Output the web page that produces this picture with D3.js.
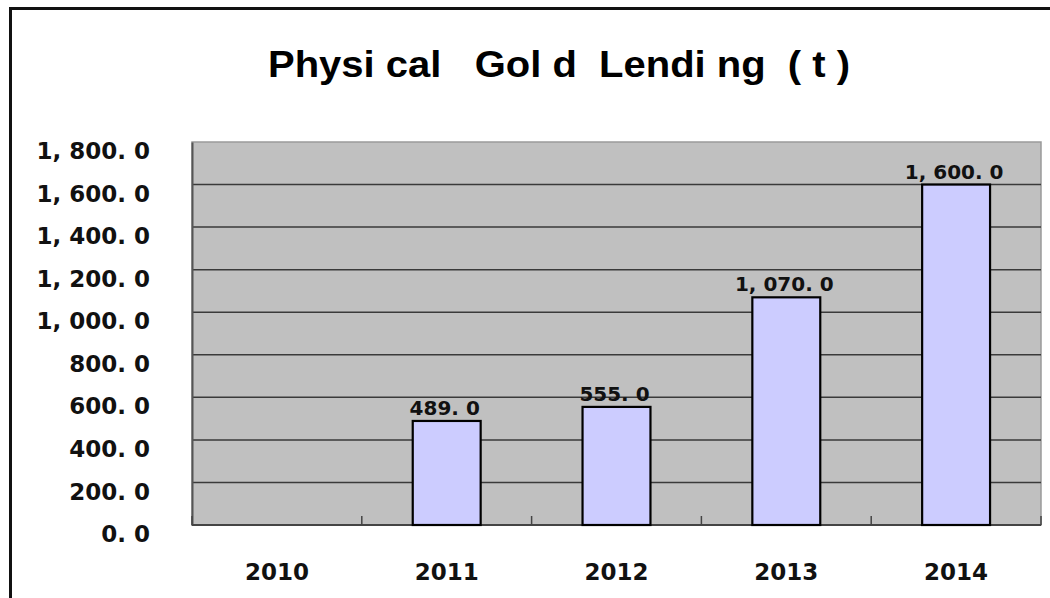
<!DOCTYPE html>
<html>
<head>
<meta charset="utf-8">
<script src="https://cdn.jsdelivr.net/npm/d3@7"></script>
<style>
  html, body { margin: 0; padding: 0; background: #fff; }
  svg { display: block; }
</style>
</head>
<body>
<svg id="chart" width="1050" height="598"></svg>
<script>
const categories = ["2010", "2011", "2012", "2013", "2014"];
const values = [null, 489.0, 555.0, 1070.0, 1600.0];
const yTicks = [0, 200, 400, 600, 800, 1000, 1200, 1400, 1600, 1800];
const titleText = "Physi cal   Gol d  Lendi ng  ( t )";

// Excel-style labels: "1, 800. 0"
const fmtNum = v => d3.format(",.1f")(v).replace(/,/g, ", ").replace(/\./g, ". ");

const svg = d3.select("#chart");
const plot = { left: 192, right: 1041, top: 142, bottom: 525 };

// outer frame (extends past right/bottom edges)
svg.append("rect")
  .attr("x", 10.5).attr("y", 8.5)
  .attr("width", 1100).attr("height", 700)
  .attr("fill", "none").attr("stroke", "#111").attr("stroke-width", 3);

// title
svg.append("text")
  .attr("x", 268).attr("y", 77)
  .attr("textLength", 582).attr("lengthAdjust", "spacingAndGlyphs")
  .style("white-space", "pre")
  .attr("font-family", "Liberation Sans, Arial, sans-serif")
  .attr("font-weight", "bold").attr("font-size", 37)
  .attr("fill", "#000")
  .text(titleText);

const x = d3.scaleBand()
  .domain(categories)
  .range([plot.left, plot.right])
  .paddingInner(0.6).paddingOuter(0.3);

const y = d3.scaleLinear()
  .domain([0, 1800])
  .range([plot.bottom, plot.top]);

// plot area background
svg.append("rect")
  .attr("x", plot.left).attr("y", plot.top)
  .attr("width", plot.right - plot.left).attr("height", plot.bottom - plot.top)
  .attr("fill", "#C0C0C0")
  .attr("stroke", "#9a9a9a").attr("stroke-width", 1.5);

// gridlines
svg.append("g").selectAll("line")
  .data(yTicks.filter(t => t > 0 && t < 1800))
  .join("line")
  .attr("x1", plot.left).attr("x2", plot.right)
  .attr("y1", d => y(d)).attr("y2", d => y(d))
  .attr("stroke", "#3a3a3a").attr("stroke-width", 1.5);

// y axis (line + labels)
const yAxis = d3.axisLeft(y).tickValues(yTicks).tickFormat(fmtNum).tickSize(0).tickPadding(42);
const gy = svg.append("g").attr("transform", `translate(${plot.left},0)`).call(yAxis);
gy.select(".domain").attr("stroke", "#555").attr("stroke-width", 2);
gy.selectAll("text")
  .attr("font-family", "DejaVu Sans, sans-serif")
  .attr("font-weight", "bold").attr("font-size", 23)
  .attr("fill", "#111")
  .attr("dy", "0.72em")
  .attr("transform", "translate(0,0)");

// x axis baseline with inner ticks at band boundaries
const step = x.step();
const boundaries = categories.map((c, i) => x(c) - x.paddingOuter() * step + 0).map((v, i) => plot.left + i * step);
boundaries.push(plot.right);
const gx = svg.append("g");
gx.append("line")
  .attr("x1", plot.left).attr("x2", plot.right)
  .attr("y1", plot.bottom).attr("y2", plot.bottom)
  .attr("stroke", "#444").attr("stroke-width", 2);
gx.selectAll("line.tick")
  .data(boundaries)
  .join("line").attr("class", "tick")
  .attr("x1", d => d).attr("x2", d => d)
  .attr("y1", plot.bottom).attr("y2", plot.bottom - 9)
  .attr("stroke", "#444").attr("stroke-width", 1.5);

const xAxis = d3.axisBottom(x).tickSize(0).tickPadding(0);
const gxa = svg.append("g").attr("transform", `translate(0,${plot.bottom})`).call(xAxis);
gxa.select(".domain").remove();
gxa.selectAll("text")
  .attr("font-family", "DejaVu Sans, sans-serif")
  .attr("font-weight", "bold").attr("font-size", 23)
  .attr("fill", "#111")
  .attr("dy", 0).attr("y", 55);

// bars
const data = categories.map((c, i) => ({ c, v: values[i] })).filter(d => d.v != null);
svg.append("g").selectAll("rect")
  .data(data)
  .join("rect")
  .attr("x", d => x(d.c)).attr("width", x.bandwidth())
  .attr("y", d => y(d.v)).attr("height", d => y(0) - y(d.v))
  .attr("fill", "#CCCCFF").attr("stroke", "#000").attr("stroke-width", 2.2);

// value labels
svg.append("g").selectAll("text")
  .data(data)
  .join("text")
  .attr("x", d => x(d.c) + x.bandwidth() / 2 - 2)
  .attr("y", d => y(d.v) - 6)
  .attr("text-anchor", "middle")
  .style("white-space", "pre")
  .attr("font-family", "DejaVu Sans, sans-serif")
  .attr("font-weight", "bold").attr("font-size", 20)
  .attr("fill", "#111")
  .text(d => fmtNum(d.v));
</script>
</body>
</html>
